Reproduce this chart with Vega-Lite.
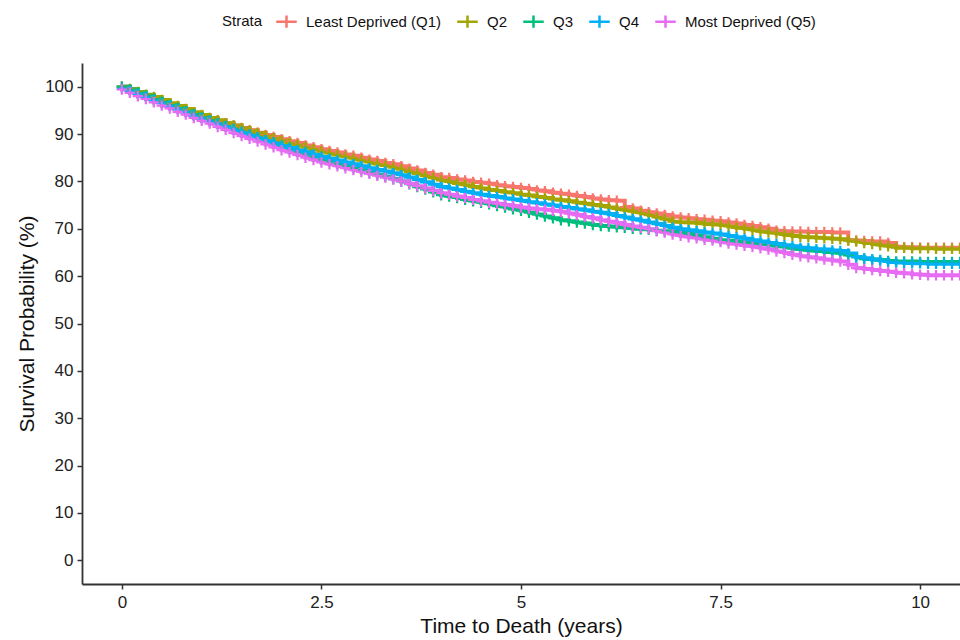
{
"$schema":"https://vega.github.io/schema/vega-lite/v6.json",
"width":878,"height":521,
"autosize":{"type":"none"},
"padding":{"left":82,"top":63,"right":0,"bottom":56},
"background":"white",
"config":{"view":{"stroke":null},"font":"Liberation Sans",
"axis":{"grid":false,"domainColor":"#333333","domainWidth":1.8,"tickColor":"#333333","tickWidth":1.5,"tickSize":5,"labelFontSize":17,"labelColor":"#222222","titleFontSize":21,"titleFontWeight":"normal","titleColor":"#111111","labelFont":"Liberation Sans","titleFont":"Liberation Sans"}},
"data":{"values":[
{"g":"Q1","t":0.0,"y":100},{"g":"Q1","t":0.1,"y":99.4},{"g":"Q1","t":0.2,"y":98.8},{"g":"Q1","t":0.3,"y":98.1},{"g":"Q1","t":0.4,"y":97.4},{"g":"Q1","t":0.5,"y":96.8},{"g":"Q1","t":0.6,"y":96.2},{"g":"Q1","t":0.7,"y":95.6},{"g":"Q1","t":0.8,"y":95.0},{"g":"Q1","t":0.9,"y":94.4},
{"g":"Q1","t":1.0,"y":93.8},{"g":"Q1","t":1.1,"y":93.3},{"g":"Q1","t":1.2,"y":92.8},{"g":"Q1","t":1.3,"y":92.3},{"g":"Q1","t":1.4,"y":91.8},{"g":"Q1","t":1.5,"y":91.3},{"g":"Q1","t":1.6,"y":90.8},{"g":"Q1","t":1.7,"y":90.3},{"g":"Q1","t":1.8,"y":89.8},{"g":"Q1","t":1.9,"y":89.4},
{"g":"Q1","t":2.0,"y":88.9},{"g":"Q1","t":2.1,"y":88.5},{"g":"Q1","t":2.2,"y":88.1},{"g":"Q1","t":2.3,"y":87.6},{"g":"Q1","t":2.4,"y":87.2},{"g":"Q1","t":2.5,"y":86.8},{"g":"Q1","t":2.6,"y":86.4},{"g":"Q1","t":2.7,"y":86.1},{"g":"Q1","t":2.8,"y":85.7},{"g":"Q1","t":2.9,"y":85.4},
{"g":"Q1","t":3.0,"y":85.0},{"g":"Q1","t":3.1,"y":84.6},{"g":"Q1","t":3.2,"y":84.3},{"g":"Q1","t":3.3,"y":83.9},{"g":"Q1","t":3.4,"y":83.6},{"g":"Q1","t":3.5,"y":83.2},{"g":"Q1","t":3.6,"y":82.7},{"g":"Q1","t":3.7,"y":82.3},{"g":"Q1","t":3.8,"y":81.8},{"g":"Q1","t":3.9,"y":81.4},
{"g":"Q1","t":4.0,"y":80.9},{"g":"Q1","t":4.1,"y":80.7},{"g":"Q1","t":4.2,"y":80.4},{"g":"Q1","t":4.3,"y":80.2},{"g":"Q1","t":4.4,"y":79.9},{"g":"Q1","t":4.5,"y":79.7},{"g":"Q1","t":4.6,"y":79.5},{"g":"Q1","t":4.7,"y":79.2},{"g":"Q1","t":4.8,"y":79.0},{"g":"Q1","t":4.9,"y":78.8},
{"g":"Q1","t":5.0,"y":78.6},{"g":"Q1","t":5.1,"y":78.4},{"g":"Q1","t":5.2,"y":78.1},{"g":"Q1","t":5.3,"y":77.9},{"g":"Q1","t":5.4,"y":77.6},{"g":"Q1","t":5.5,"y":77.4},{"g":"Q1","t":5.6,"y":77.2},{"g":"Q1","t":5.7,"y":76.9},{"g":"Q1","t":5.8,"y":76.7},{"g":"Q1","t":5.9,"y":76.4},
{"g":"Q1","t":6.0,"y":76.2},{"g":"Q1","t":6.1,"y":76.0},{"g":"Q1","t":6.2,"y":75.9},{"g":"Q1","t":6.3,"y":74.6},{"g":"Q1","t":6.4,"y":74.3},{"g":"Q1","t":6.5,"y":73.8},{"g":"Q1","t":6.6,"y":73.5},{"g":"Q1","t":6.7,"y":73.2},{"g":"Q1","t":6.8,"y":72.9},{"g":"Q1","t":6.9,"y":72.6},
{"g":"Q1","t":7.0,"y":72.4},{"g":"Q1","t":7.1,"y":72.2},{"g":"Q1","t":7.2,"y":72.0},{"g":"Q1","t":7.3,"y":71.9},{"g":"Q1","t":7.4,"y":71.7},{"g":"Q1","t":7.5,"y":71.6},{"g":"Q1","t":7.6,"y":71.3},{"g":"Q1","t":7.7,"y":71.1},{"g":"Q1","t":7.8,"y":70.8},{"g":"Q1","t":7.9,"y":70.6},
{"g":"Q1","t":8.0,"y":70.3},{"g":"Q1","t":8.1,"y":70.0},{"g":"Q1","t":8.2,"y":69.6},{"g":"Q1","t":8.3,"y":69.5},{"g":"Q1","t":8.4,"y":69.4},{"g":"Q1","t":8.5,"y":69.4},{"g":"Q1","t":8.6,"y":69.3},{"g":"Q1","t":8.7,"y":69.3},{"g":"Q1","t":8.8,"y":69.3},{"g":"Q1","t":8.9,"y":69.2},
{"g":"Q1","t":9.0,"y":69.2},{"g":"Q1","t":9.1,"y":67.6},{"g":"Q1","t":9.2,"y":67.5},{"g":"Q1","t":9.3,"y":67.4},{"g":"Q1","t":9.4,"y":67.3},{"g":"Q1","t":9.5,"y":67.3},{"g":"Q1","t":9.6,"y":67.0},{"g":"Q1","t":9.7,"y":66.2},{"g":"Q1","t":9.8,"y":66.1},{"g":"Q1","t":9.9,"y":66.1},
{"g":"Q1","t":10.0,"y":66.0},{"g":"Q1","t":10.1,"y":66.0},{"g":"Q1","t":10.2,"y":66.0},{"g":"Q1","t":10.3,"y":66.0},{"g":"Q1","t":10.4,"y":66.0},{"g":"Q1","t":10.5,"y":66.0},
{"g":"Q2","t":0.0,"y":100},{"g":"Q2","t":0.1,"y":99.5},{"g":"Q2","t":0.2,"y":98.9},{"g":"Q2","t":0.3,"y":98.3},{"g":"Q2","t":0.4,"y":97.8},{"g":"Q2","t":0.5,"y":97.2},{"g":"Q2","t":0.6,"y":96.5},{"g":"Q2","t":0.7,"y":95.9},{"g":"Q2","t":0.8,"y":95.3},{"g":"Q2","t":0.9,"y":94.6},
{"g":"Q2","t":1.0,"y":94.0},{"g":"Q2","t":1.1,"y":93.4},{"g":"Q2","t":1.2,"y":92.9},{"g":"Q2","t":1.3,"y":92.3},{"g":"Q2","t":1.4,"y":91.8},{"g":"Q2","t":1.5,"y":91.2},{"g":"Q2","t":1.6,"y":90.7},{"g":"Q2","t":1.7,"y":90.2},{"g":"Q2","t":1.8,"y":89.6},{"g":"Q2","t":1.9,"y":89.1},
{"g":"Q2","t":2.0,"y":88.6},{"g":"Q2","t":2.1,"y":88.1},{"g":"Q2","t":2.2,"y":87.7},{"g":"Q2","t":2.3,"y":87.2},{"g":"Q2","t":2.4,"y":86.8},{"g":"Q2","t":2.5,"y":86.3},{"g":"Q2","t":2.6,"y":85.9},{"g":"Q2","t":2.7,"y":85.5},{"g":"Q2","t":2.8,"y":85.2},{"g":"Q2","t":2.9,"y":84.8},
{"g":"Q2","t":3.0,"y":84.4},{"g":"Q2","t":3.1,"y":84.0},{"g":"Q2","t":3.2,"y":83.6},{"g":"Q2","t":3.3,"y":83.3},{"g":"Q2","t":3.4,"y":82.9},{"g":"Q2","t":3.5,"y":82.5},{"g":"Q2","t":3.6,"y":82.0},{"g":"Q2","t":3.7,"y":81.6},{"g":"Q2","t":3.8,"y":81.1},{"g":"Q2","t":3.9,"y":80.7},
{"g":"Q2","t":4.0,"y":80.2},{"g":"Q2","t":4.1,"y":79.9},{"g":"Q2","t":4.2,"y":79.5},{"g":"Q2","t":4.3,"y":79.2},{"g":"Q2","t":4.4,"y":78.8},{"g":"Q2","t":4.5,"y":78.5},{"g":"Q2","t":4.6,"y":78.2},{"g":"Q2","t":4.7,"y":78.0},{"g":"Q2","t":4.8,"y":77.7},{"g":"Q2","t":4.9,"y":77.5},
{"g":"Q2","t":5.0,"y":77.2},{"g":"Q2","t":5.1,"y":77.0},{"g":"Q2","t":5.2,"y":76.7},{"g":"Q2","t":5.3,"y":76.5},{"g":"Q2","t":5.4,"y":76.2},{"g":"Q2","t":5.5,"y":76.0},{"g":"Q2","t":5.6,"y":75.8},{"g":"Q2","t":5.7,"y":75.5},{"g":"Q2","t":5.8,"y":75.3},{"g":"Q2","t":5.9,"y":75.0},
{"g":"Q2","t":6.0,"y":74.8},{"g":"Q2","t":6.1,"y":74.5},{"g":"Q2","t":6.2,"y":74.2},{"g":"Q2","t":6.3,"y":73.9},{"g":"Q2","t":6.4,"y":73.6},{"g":"Q2","t":6.5,"y":73.3},{"g":"Q2","t":6.6,"y":72.9},{"g":"Q2","t":6.7,"y":72.4},{"g":"Q2","t":6.8,"y":72.0},{"g":"Q2","t":6.9,"y":71.5},
{"g":"Q2","t":7.0,"y":71.4},{"g":"Q2","t":7.1,"y":71.3},{"g":"Q2","t":7.2,"y":71.2},{"g":"Q2","t":7.3,"y":71.0},{"g":"Q2","t":7.4,"y":70.9},{"g":"Q2","t":7.5,"y":70.8},{"g":"Q2","t":7.6,"y":70.5},{"g":"Q2","t":7.7,"y":70.2},{"g":"Q2","t":7.8,"y":70.0},{"g":"Q2","t":7.9,"y":69.7},
{"g":"Q2","t":8.0,"y":69.4},{"g":"Q2","t":8.1,"y":69.2},{"g":"Q2","t":8.2,"y":69.0},{"g":"Q2","t":8.3,"y":68.7},{"g":"Q2","t":8.4,"y":68.5},{"g":"Q2","t":8.5,"y":68.3},{"g":"Q2","t":8.6,"y":68.2},{"g":"Q2","t":8.7,"y":68.1},{"g":"Q2","t":8.8,"y":68.0},{"g":"Q2","t":8.9,"y":67.9},
{"g":"Q2","t":9.0,"y":67.8},{"g":"Q2","t":9.1,"y":67.5},{"g":"Q2","t":9.2,"y":67.3},{"g":"Q2","t":9.3,"y":67.0},{"g":"Q2","t":9.4,"y":66.8},{"g":"Q2","t":9.5,"y":66.5},{"g":"Q2","t":9.6,"y":66.3},{"g":"Q2","t":9.7,"y":66.0},{"g":"Q2","t":9.8,"y":66.0},{"g":"Q2","t":9.9,"y":65.9},
{"g":"Q2","t":10.0,"y":65.9},{"g":"Q2","t":10.1,"y":65.9},{"g":"Q2","t":10.2,"y":65.8},{"g":"Q2","t":10.3,"y":65.8},{"g":"Q2","t":10.4,"y":65.8},{"g":"Q2","t":10.5,"y":65.8},
{"g":"Q3","t":0.0,"y":100},{"g":"Q3","t":0.1,"y":99.4},{"g":"Q3","t":0.2,"y":98.7},{"g":"Q3","t":0.3,"y":98.1},{"g":"Q3","t":0.4,"y":97.4},{"g":"Q3","t":0.5,"y":96.8},{"g":"Q3","t":0.6,"y":96.1},{"g":"Q3","t":0.7,"y":95.5},{"g":"Q3","t":0.8,"y":94.8},{"g":"Q3","t":0.9,"y":94.2},
{"g":"Q3","t":1.0,"y":93.5},{"g":"Q3","t":1.1,"y":92.9},{"g":"Q3","t":1.2,"y":92.3},{"g":"Q3","t":1.3,"y":91.7},{"g":"Q3","t":1.4,"y":91.1},{"g":"Q3","t":1.5,"y":90.5},{"g":"Q3","t":1.6,"y":89.9},{"g":"Q3","t":1.7,"y":89.3},{"g":"Q3","t":1.8,"y":88.7},{"g":"Q3","t":1.9,"y":88.1},
{"g":"Q3","t":2.0,"y":87.5},{"g":"Q3","t":2.1,"y":86.9},{"g":"Q3","t":2.2,"y":86.3},{"g":"Q3","t":2.3,"y":85.8},{"g":"Q3","t":2.4,"y":85.2},{"g":"Q3","t":2.5,"y":84.6},{"g":"Q3","t":2.6,"y":84.2},{"g":"Q3","t":2.7,"y":83.7},{"g":"Q3","t":2.8,"y":83.3},{"g":"Q3","t":2.9,"y":82.8},
{"g":"Q3","t":3.0,"y":82.4},{"g":"Q3","t":3.1,"y":81.9},{"g":"Q3","t":3.2,"y":81.4},{"g":"Q3","t":3.3,"y":81.0},{"g":"Q3","t":3.4,"y":80.5},{"g":"Q3","t":3.5,"y":80.0},{"g":"Q3","t":3.6,"y":79.4},{"g":"Q3","t":3.7,"y":78.8},{"g":"Q3","t":3.8,"y":78.3},{"g":"Q3","t":3.9,"y":77.7},
{"g":"Q3","t":4.0,"y":77.1},{"g":"Q3","t":4.1,"y":76.8},{"g":"Q3","t":4.2,"y":76.5},{"g":"Q3","t":4.3,"y":76.1},{"g":"Q3","t":4.4,"y":75.8},{"g":"Q3","t":4.5,"y":75.5},{"g":"Q3","t":4.6,"y":75.2},{"g":"Q3","t":4.7,"y":74.8},{"g":"Q3","t":4.8,"y":74.5},{"g":"Q3","t":4.9,"y":74.1},
{"g":"Q3","t":5.0,"y":73.8},{"g":"Q3","t":5.1,"y":73.4},{"g":"Q3","t":5.2,"y":73.0},{"g":"Q3","t":5.3,"y":72.6},{"g":"Q3","t":5.4,"y":72.2},{"g":"Q3","t":5.5,"y":71.8},{"g":"Q3","t":5.6,"y":71.6},{"g":"Q3","t":5.7,"y":71.3},{"g":"Q3","t":5.8,"y":71.1},{"g":"Q3","t":5.9,"y":70.8},
{"g":"Q3","t":6.0,"y":70.6},{"g":"Q3","t":6.1,"y":70.5},{"g":"Q3","t":6.2,"y":70.3},{"g":"Q3","t":6.3,"y":70.2},{"g":"Q3","t":6.4,"y":70.0},{"g":"Q3","t":6.5,"y":69.9},{"g":"Q3","t":6.6,"y":69.8},{"g":"Q3","t":6.7,"y":69.6},{"g":"Q3","t":6.8,"y":69.5},{"g":"Q3","t":6.9,"y":69.3},
{"g":"Q3","t":7.0,"y":69.2},{"g":"Q3","t":7.1,"y":68.9},{"g":"Q3","t":7.2,"y":68.6},{"g":"Q3","t":7.3,"y":68.2},{"g":"Q3","t":7.4,"y":67.9},{"g":"Q3","t":7.5,"y":67.6},{"g":"Q3","t":7.6,"y":67.4},{"g":"Q3","t":7.7,"y":67.3},{"g":"Q3","t":7.8,"y":67.1},{"g":"Q3","t":7.9,"y":67.0},
{"g":"Q3","t":8.0,"y":66.8},{"g":"Q3","t":8.1,"y":66.6},{"g":"Q3","t":8.2,"y":66.3},{"g":"Q3","t":8.3,"y":66.1},{"g":"Q3","t":8.4,"y":65.8},{"g":"Q3","t":8.5,"y":65.6},{"g":"Q3","t":8.6,"y":65.4},{"g":"Q3","t":8.7,"y":65.3},{"g":"Q3","t":8.8,"y":65.1},{"g":"Q3","t":8.9,"y":65.0},
{"g":"Q3","t":9.0,"y":64.8},{"g":"Q3","t":9.1,"y":64.4},{"g":"Q3","t":9.2,"y":64.0},{"g":"Q3","t":9.3,"y":63.6},{"g":"Q3","t":9.4,"y":63.5},{"g":"Q3","t":9.5,"y":63.4},{"g":"Q3","t":9.6,"y":63.2},{"g":"Q3","t":9.7,"y":63.1},{"g":"Q3","t":9.8,"y":63.1},{"g":"Q3","t":9.9,"y":63.1},
{"g":"Q3","t":10.0,"y":63.0},{"g":"Q3","t":10.1,"y":63.0},{"g":"Q3","t":10.2,"y":63.0},{"g":"Q3","t":10.3,"y":63.0},{"g":"Q3","t":10.4,"y":63.0},{"g":"Q3","t":10.5,"y":63.0},
{"g":"Q4","t":0.0,"y":99.6},{"g":"Q4","t":0.1,"y":99.0},{"g":"Q4","t":0.2,"y":98.4},{"g":"Q4","t":0.3,"y":97.8},{"g":"Q4","t":0.4,"y":97.1},{"g":"Q4","t":0.5,"y":96.5},{"g":"Q4","t":0.6,"y":95.9},{"g":"Q4","t":0.7,"y":95.2},{"g":"Q4","t":0.8,"y":94.6},{"g":"Q4","t":0.9,"y":93.9},
{"g":"Q4","t":1.0,"y":93.3},{"g":"Q4","t":1.1,"y":92.7},{"g":"Q4","t":1.2,"y":92.2},{"g":"Q4","t":1.3,"y":91.6},{"g":"Q4","t":1.4,"y":91.0},{"g":"Q4","t":1.5,"y":90.4},{"g":"Q4","t":1.6,"y":89.8},{"g":"Q4","t":1.7,"y":89.3},{"g":"Q4","t":1.8,"y":88.7},{"g":"Q4","t":1.9,"y":88.2},
{"g":"Q4","t":2.0,"y":87.6},{"g":"Q4","t":2.1,"y":87.1},{"g":"Q4","t":2.2,"y":86.6},{"g":"Q4","t":2.3,"y":86.2},{"g":"Q4","t":2.4,"y":85.7},{"g":"Q4","t":2.5,"y":85.2},{"g":"Q4","t":2.6,"y":84.8},{"g":"Q4","t":2.7,"y":84.4},{"g":"Q4","t":2.8,"y":84.0},{"g":"Q4","t":2.9,"y":83.6},
{"g":"Q4","t":3.0,"y":83.2},{"g":"Q4","t":3.1,"y":82.8},{"g":"Q4","t":3.2,"y":82.4},{"g":"Q4","t":3.3,"y":82.1},{"g":"Q4","t":3.4,"y":81.7},{"g":"Q4","t":3.5,"y":81.3},{"g":"Q4","t":3.6,"y":80.8},{"g":"Q4","t":3.7,"y":80.3},{"g":"Q4","t":3.8,"y":79.8},{"g":"Q4","t":3.9,"y":79.3},
{"g":"Q4","t":4.0,"y":78.8},{"g":"Q4","t":4.1,"y":78.5},{"g":"Q4","t":4.2,"y":78.2},{"g":"Q4","t":4.3,"y":77.8},{"g":"Q4","t":4.4,"y":77.5},{"g":"Q4","t":4.5,"y":77.2},{"g":"Q4","t":4.6,"y":76.9},{"g":"Q4","t":4.7,"y":76.7},{"g":"Q4","t":4.8,"y":76.4},{"g":"Q4","t":4.9,"y":76.2},
{"g":"Q4","t":5.0,"y":75.9},{"g":"Q4","t":5.1,"y":75.6},{"g":"Q4","t":5.2,"y":75.4},{"g":"Q4","t":5.3,"y":75.1},{"g":"Q4","t":5.4,"y":74.9},{"g":"Q4","t":5.5,"y":74.6},{"g":"Q4","t":5.6,"y":74.4},{"g":"Q4","t":5.7,"y":74.1},{"g":"Q4","t":5.8,"y":73.9},{"g":"Q4","t":5.9,"y":73.6},
{"g":"Q4","t":6.0,"y":73.4},{"g":"Q4","t":6.1,"y":73.1},{"g":"Q4","t":6.2,"y":72.7},{"g":"Q4","t":6.3,"y":72.4},{"g":"Q4","t":6.4,"y":72.0},{"g":"Q4","t":6.5,"y":71.7},{"g":"Q4","t":6.6,"y":71.3},{"g":"Q4","t":6.7,"y":71.0},{"g":"Q4","t":6.8,"y":70.6},{"g":"Q4","t":6.9,"y":70.2},
{"g":"Q4","t":7.0,"y":69.9},{"g":"Q4","t":7.1,"y":69.7},{"g":"Q4","t":7.2,"y":69.5},{"g":"Q4","t":7.3,"y":69.2},{"g":"Q4","t":7.4,"y":69.0},{"g":"Q4","t":7.5,"y":68.8},{"g":"Q4","t":7.6,"y":68.5},{"g":"Q4","t":7.7,"y":68.2},{"g":"Q4","t":7.8,"y":67.9},{"g":"Q4","t":7.9,"y":67.6},
{"g":"Q4","t":8.0,"y":67.3},{"g":"Q4","t":8.1,"y":67.0},{"g":"Q4","t":8.2,"y":66.8},{"g":"Q4","t":8.3,"y":66.5},{"g":"Q4","t":8.4,"y":66.3},{"g":"Q4","t":8.5,"y":66.0},{"g":"Q4","t":8.6,"y":65.9},{"g":"Q4","t":8.7,"y":65.7},{"g":"Q4","t":8.8,"y":65.6},{"g":"Q4","t":8.9,"y":65.4},
{"g":"Q4","t":9.0,"y":65.3},{"g":"Q4","t":9.1,"y":64.8},{"g":"Q4","t":9.2,"y":64.0},{"g":"Q4","t":9.3,"y":63.8},{"g":"Q4","t":9.4,"y":63.5},{"g":"Q4","t":9.5,"y":63.3},{"g":"Q4","t":9.6,"y":63.0},{"g":"Q4","t":9.7,"y":62.9},{"g":"Q4","t":9.8,"y":62.8},{"g":"Q4","t":9.9,"y":62.7},
{"g":"Q4","t":10.0,"y":62.7},{"g":"Q4","t":10.1,"y":62.6},{"g":"Q4","t":10.2,"y":62.6},{"g":"Q4","t":10.3,"y":62.6},{"g":"Q4","t":10.4,"y":62.6},{"g":"Q4","t":10.5,"y":62.6},
{"g":"Q5","t":0.0,"y":99.4},{"g":"Q5","t":0.1,"y":98.7},{"g":"Q5","t":0.2,"y":98.0},{"g":"Q5","t":0.3,"y":97.4},{"g":"Q5","t":0.4,"y":96.7},{"g":"Q5","t":0.5,"y":96.0},{"g":"Q5","t":0.6,"y":95.4},{"g":"Q5","t":0.7,"y":94.7},{"g":"Q5","t":0.8,"y":94.1},{"g":"Q5","t":0.9,"y":93.4},
{"g":"Q5","t":1.0,"y":92.8},{"g":"Q5","t":1.1,"y":92.2},{"g":"Q5","t":1.2,"y":91.5},{"g":"Q5","t":1.3,"y":90.9},{"g":"Q5","t":1.4,"y":90.2},{"g":"Q5","t":1.5,"y":89.6},{"g":"Q5","t":1.6,"y":89.0},{"g":"Q5","t":1.7,"y":88.4},{"g":"Q5","t":1.8,"y":87.8},{"g":"Q5","t":1.9,"y":87.2},
{"g":"Q5","t":2.0,"y":86.6},{"g":"Q5","t":2.1,"y":86.1},{"g":"Q5","t":2.2,"y":85.6},{"g":"Q5","t":2.3,"y":85.0},{"g":"Q5","t":2.4,"y":84.5},{"g":"Q5","t":2.5,"y":84.0},{"g":"Q5","t":2.6,"y":83.6},{"g":"Q5","t":2.7,"y":83.2},{"g":"Q5","t":2.8,"y":82.8},{"g":"Q5","t":2.9,"y":82.4},
{"g":"Q5","t":3.0,"y":82.0},{"g":"Q5","t":3.1,"y":81.6},{"g":"Q5","t":3.2,"y":81.2},{"g":"Q5","t":3.3,"y":80.8},{"g":"Q5","t":3.4,"y":80.4},{"g":"Q5","t":3.5,"y":80.0},{"g":"Q5","t":3.6,"y":79.5},{"g":"Q5","t":3.7,"y":79.0},{"g":"Q5","t":3.8,"y":78.5},{"g":"Q5","t":3.9,"y":78.0},
{"g":"Q5","t":4.0,"y":77.5},{"g":"Q5","t":4.1,"y":77.2},{"g":"Q5","t":4.2,"y":76.8},{"g":"Q5","t":4.3,"y":76.5},{"g":"Q5","t":4.4,"y":76.1},{"g":"Q5","t":4.5,"y":75.8},{"g":"Q5","t":4.6,"y":75.5},{"g":"Q5","t":4.7,"y":75.3},{"g":"Q5","t":4.8,"y":75.0},{"g":"Q5","t":4.9,"y":74.8},
{"g":"Q5","t":5.0,"y":74.5},{"g":"Q5","t":5.1,"y":74.3},{"g":"Q5","t":5.2,"y":74.1},{"g":"Q5","t":5.3,"y":74.0},{"g":"Q5","t":5.4,"y":73.8},{"g":"Q5","t":5.5,"y":73.6},{"g":"Q5","t":5.6,"y":73.2},{"g":"Q5","t":5.7,"y":72.9},{"g":"Q5","t":5.8,"y":72.5},{"g":"Q5","t":5.9,"y":72.2},
{"g":"Q5","t":6.0,"y":71.8},{"g":"Q5","t":6.1,"y":71.5},{"g":"Q5","t":6.2,"y":71.2},{"g":"Q5","t":6.3,"y":70.8},{"g":"Q5","t":6.4,"y":70.5},{"g":"Q5","t":6.5,"y":70.2},{"g":"Q5","t":6.6,"y":69.9},{"g":"Q5","t":6.7,"y":69.5},{"g":"Q5","t":6.8,"y":69.2},{"g":"Q5","t":6.9,"y":68.8},
{"g":"Q5","t":7.0,"y":68.5},{"g":"Q5","t":7.1,"y":68.2},{"g":"Q5","t":7.2,"y":68.0},{"g":"Q5","t":7.3,"y":67.7},{"g":"Q5","t":7.4,"y":67.5},{"g":"Q5","t":7.5,"y":67.2},{"g":"Q5","t":7.6,"y":66.9},{"g":"Q5","t":7.7,"y":66.7},{"g":"Q5","t":7.8,"y":66.4},{"g":"Q5","t":7.9,"y":66.2},
{"g":"Q5","t":8.0,"y":65.9},{"g":"Q5","t":8.1,"y":65.6},{"g":"Q5","t":8.2,"y":65.2},{"g":"Q5","t":8.3,"y":64.9},{"g":"Q5","t":8.4,"y":64.5},{"g":"Q5","t":8.5,"y":64.2},{"g":"Q5","t":8.6,"y":64.0},{"g":"Q5","t":8.7,"y":63.8},{"g":"Q5","t":8.8,"y":63.5},{"g":"Q5","t":8.9,"y":63.3},
{"g":"Q5","t":9.0,"y":63.1},{"g":"Q5","t":9.1,"y":62.4},{"g":"Q5","t":9.2,"y":61.7},{"g":"Q5","t":9.3,"y":61.5},{"g":"Q5","t":9.4,"y":61.3},{"g":"Q5","t":9.5,"y":61.1},{"g":"Q5","t":9.6,"y":60.9},{"g":"Q5","t":9.7,"y":60.7},{"g":"Q5","t":9.8,"y":60.6},{"g":"Q5","t":9.9,"y":60.4},
{"g":"Q5","t":10.0,"y":60.3},{"g":"Q5","t":10.1,"y":60.2},{"g":"Q5","t":10.2,"y":60.2},{"g":"Q5","t":10.3,"y":60.2},{"g":"Q5","t":10.4,"y":60.2},{"g":"Q5","t":10.5,"y":60.2}
]},
"encoding":{
"x":{"field":"t","type":"quantitative","scale":{"domain":[-0.5,10.5],"nice":false,"zero":false},"axis":{"values":[0,2.5,5,7.5,10],"format":".1~f","title":"Time to Death (years)","labelPadding":5,"titlePadding":5}},
"y":{"field":"y","type":"quantitative","scale":{"domain":[-5,105],"nice":false,"zero":false},"axis":{"values":[0,10,20,30,40,50,60,70,80,90,100],"title":"Survival Probability (%)","labelPadding":4,"titlePadding":7}},
"color":{"field":"g","type":"nominal","scale":{"domain":["Q1","Q2","Q3","Q4","Q5"],"range":["#F8766D","#A3A500","#00BF7D","#00B0F6","#E76BF3"]},
"legend":{"title":"Strata","orient":"none","legendX":140,"legendY":-53,"direction":"horizontal","titleOrient":"left","titleFontSize":15,"titleFontWeight":"normal","titleColor":"#111111","titlePadding":12,"labelFontSize":15,"labelColor":"#111111","labelOffset":8,"columnPadding":10,"symbolType":"M-1,0H1M0,-0.6V0.6","symbolSize":420,"symbolStrokeWidth":2.5,"symbolFillColor":"transparent","labelExpr":"datum.label == 'Q1' ? 'Least Deprived (Q1)' : datum.label == 'Q5' ? 'Most Deprived (Q5)' : datum.label"}}
},
"layer":[
{"mark":{"type":"line","interpolate":"step-after","strokeWidth":4,"clip":true}},
{"mark":{"type":"point","shape":"M-1,0H1M0,-1V1","filled":false,"size":110,"strokeWidth":2.2,"opacity":1,"clip":true}}
]
}
